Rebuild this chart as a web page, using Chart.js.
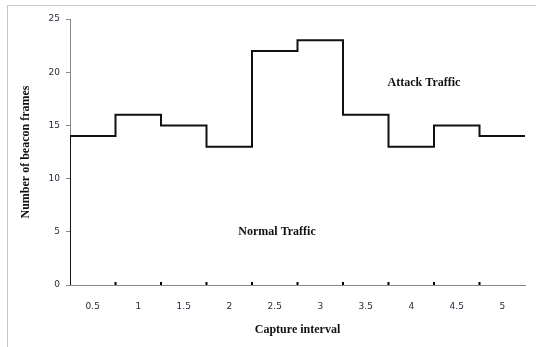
<!DOCTYPE html>
<html>
<head>
<meta charset="utf-8">
<script src="https://cdn.jsdelivr.net/npm/chart.js@4/dist/chart.umd.min.js"></script>
<style>
  html, body { margin: 0; padding: 0; background: #fff; overflow: hidden; }
  #wrap { position: absolute; left: 0; top: 0; width: 536px; height: 347px; }
  #frame { position: absolute; left: 7px; top: 5px; width: 540px; height: 350px; border: 1px solid #c8c8c8; pointer-events: none; }
</style>
</head>
<body>
<div id="wrap"><canvas id="beaconChart" width="536" height="347"></canvas></div>
<div id="frame"></div>
<script>
// data
const categories = ['0.5', '1', '1.5', '2', '2.5', '3', '3.5', '4', '4.5', '5'];
const beaconFrames = [14, 16, 15, 13, 22, 23, 16, 13, 15, 14];
const yMin = 0, yMax = 25, yStep = 5;

// text labels inside the plot (x in category index, y in frames)
const notes = [
  { text: 'Attack Traffic', x: 7.28, y: 19 },
  { text: 'Normal Traffic', x: 4.05, y: 5 }
];

// step outline: starts at 0 on the left edge, each value held across its interval
const stepPoints = [{ x: -0.5, y: 0 }];
beaconFrames.forEach((v, i) => stepPoints.push({ x: i - 0.5, y: v }));
stepPoints.push({ x: categories.length - 0.5, y: beaconFrames[beaconFrames.length - 1] });

const serifBold = { family: '"Liberation Serif", "DejaVu Serif", serif', size: 12, weight: 'bold' };

// small tick marks between intervals, drawn inside the axis
const innerTicks = {
  id: 'innerTicks',
  afterDatasetsDraw(chart) {
    const xs = chart.scales.xl;
    const bottom = chart.chartArea.bottom;
    const c = chart.ctx;
    c.save();
    c.strokeStyle = '#000';
    c.lineWidth = 2;
    for (let i = 0; i < categories.length - 1; i++) {
      const px = xs.getPixelForValue(i + 0.5);
      c.beginPath();
      c.moveTo(px, bottom - 3);
      c.lineTo(px, bottom);
      c.stroke();
    }
    c.restore();
  }
};

const noteLabels = {
  id: 'noteLabels',
  afterDatasetsDraw(chart) {
    const c = chart.ctx;
    c.save();
    c.fillStyle = '#111';
    c.font = 'bold 12px "Liberation Serif", serif';
    c.textAlign = 'center';
    c.textBaseline = 'middle';
    notes.forEach(n => {
      c.fillText(n.text, chart.scales.xl.getPixelForValue(n.x), chart.scales.y.getPixelForValue(n.y));
    });
    c.restore();
  }
};

Chart.defaults.font.family = '"DejaVu Sans", sans-serif';

const ctx = document.getElementById('beaconChart').getContext('2d');
const chart = new Chart(ctx, {
  type: 'line',
  data: {
    labels: categories,
    datasets: [{
      label: 'Number of beacon frames',
      data: stepPoints,
      xAxisID: 'xl',
      yAxisID: 'y',
      stepped: true,
      borderColor: '#111',
      borderWidth: 2,
      pointRadius: 0,
      fill: false
    }]
  },
  options: {
    responsive: false,
    animation: false,
    layout: { padding: { top: 19, right: 11, left: 0, bottom: 0 } },
    plugins: {
      legend: { display: false },
      tooltip: { enabled: false }
    },
    scales: {
      x: {
        type: 'category',
        position: 'bottom',
        offset: true,
        grid: { display: false },
        border: { display: true, color: '#888', width: 1 },
        ticks: { color: '#2a2a3a', font: { size: 9 }, padding: 8, maxRotation: 0 },
        title: { display: true, text: 'Capture interval', color: '#111', font: serifBold, padding: { top: 0, bottom: 10 } },
        afterFit(scale) { scale.height = 62; }
      },
      xl: {
        type: 'linear',
        position: 'bottom',
        display: false,
        min: -0.5,
        max: categories.length - 0.5
      },
      y: {
        min: yMin,
        max: yMax,
        ticks: { stepSize: yStep, color: '#2a2a3a', font: { size: 9 }, padding: 6 },
        grid: { drawOnChartArea: false, tickLength: 4, color: '#888' },
        border: { display: true, color: '#888', width: 1 },
        title: { display: true, text: 'Number of beacon frames', color: '#111', font: serifBold, padding: { top: 19, bottom: 0 } },
        afterFit(scale) { scale.width = 70; }
      }
    }
  },
  plugins: [innerTicks, noteLabels]
});
</script>
</body>
</html>
